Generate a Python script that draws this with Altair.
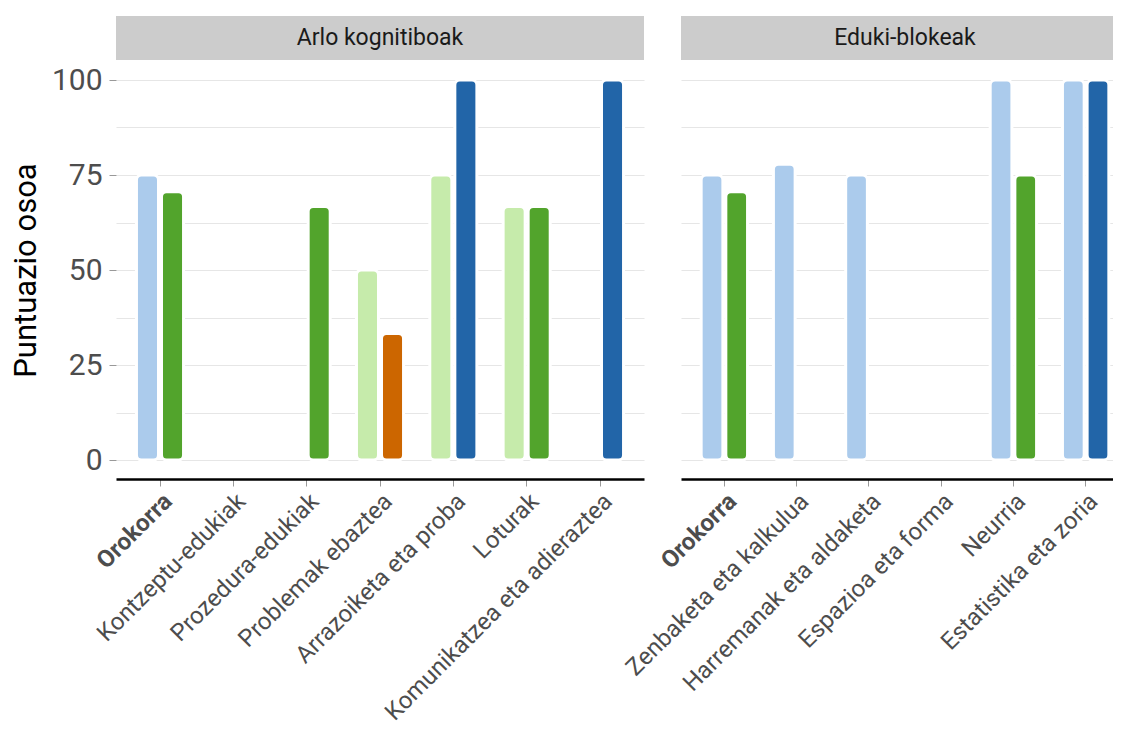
import altair as alt
import pandas as pd

# ---- data ----
cats_a = ["Orokorra", "Kontzeptu-edukiak", "Prozedura-edukiak", "Problemak ebaztea",
          "Arrazoiketa eta proba", "Loturak", "Komunikatzea eta adieraztea"]
left_a = [75, None, None, 50, 75, 66.7, None]
left_a_col = ["lb", None, None, "lg", "lg", "lg", None]
right_a = [70.6, None, 66.7, 33.3, 100, 66.7, 100]
right_a_col = ["g", None, "g", "o", "db", "g", "db"]

cats_b = ["Orokorra", "Zenbaketa eta kalkulua", "Harremanak eta aldaketa",
          "Espazioa eta forma", "Neurria", "Estatistika eta zoria"]
left_b = [75, 77.8, 75, None, 100, 100]
left_b_col = ["lb", "lb", "lb", None, "lb", "lb"]
right_b = [70.6, None, None, None, 75, 100]
right_b_col = ["g", None, None, None, "g", "db"]

color_keys = ["lb", "lg", "g", "o", "db"]
color_hex = ["#abcbec", "#c6ebab", "#52a42c", "#cc6600", "#2265a8"]

panel_titles = ["Arlo kognitiboak", "Eduki-blokeak"]
y_title = "Puntuazio osoa"
y_ticks = [0, 12.5, 25, 37.5, 50, 62.5, 75, 87.5, 100]


def build_df(cats, left, left_col, right, right_col):
    rows = []
    for c, lv, lc, rv, rc in zip(cats, left, left_col, right, right_col):
        if lv is not None:
            rows.append({"cat": c, "pos": "L", "val": lv, "col": lc})
        if rv is not None:
            rows.append({"cat": c, "pos": "R", "val": rv, "col": rc})
    return pd.DataFrame(rows)


df_a = build_df(cats_a, left_a, left_a_col, right_a, right_a_col)
df_b = build_df(cats_b, left_b, left_b_col, right_b, right_b_col)

FONT = "Roboto"
H = 418


def panel(df, cats, width, title, show_y):
    if show_y:
        y_axis = alt.Axis(
            values=y_ticks,
            labelExpr="datum.value % 25 == 0 ? datum.label : ''",
            title=y_title, titleFont=FONT, titleFontSize=31, titleFontWeight="normal",
            titleColor="#000000", titlePadding=9,
            labelFont=FONT, labelFontSize=30, labelColor="#4d4d4d", labelPadding=7,
            labelOverlap=False,
            tickSize=7, tickWidth=1,
            tickColor={"condition": {"test": "datum.value % 25 == 0", "value": "#999999"},
                       "value": "rgba(0,0,0,0)"},
            domain=False, grid=True, gridColor="#e6e6e6", gridWidth=1.2,
        )
    else:
        y_axis = alt.Axis(
            values=y_ticks, labels=False, ticks=False, domain=False, title=None,
            grid=True, gridColor="#e6e6e6", gridWidth=1.2,
        )

    x_axis = alt.Axis(
        title=None, labelAngle=-45, labelAlign="right", labelBaseline="top",
        labelFont=FONT, labelFontSize=24, labelColor="#4d4d4d",
        labelFontWeight={"condition": {"test": "datum.value == 'Orokorra'", "value": "bold"},
                         "value": "normal"},
        labelPadding=3, labelLimit=600, labelOverlap=False,
        tickSize=7, tickWidth=1, tickColor="#999999",
        domainColor="#000000", domainWidth=2.5, grid=False,
    )

    bars = alt.Chart(df).mark_bar(cornerRadius=5, stroke="white", strokeWidth=3).encode(
        x=alt.X("cat:N", sort=cats,
                scale=alt.Scale(domain=cats, paddingInner=0, paddingOuter=0.1),
                axis=x_axis),
        xOffset=alt.XOffset("pos:N",
                            scale=alt.Scale(domain=["L", "R"], paddingInner=0.12,
                                            paddingOuter=0.524)),
        y=alt.Y("val:Q", scale=alt.Scale(domain=[-5, 105], nice=False, zero=False),
                axis=y_axis),
        y2=alt.datum(0),
        color=alt.Color("col:N", scale=alt.Scale(domain=color_keys, range=color_hex),
                        legend=None),
    )

    one = pd.DataFrame({"k": [0]})
    strip = alt.Chart(one).mark_rect(color="#cccccc").encode(
        x=alt.value(0), x2=alt.value(width), y=alt.value(-45), y2=alt.value(-1)
    )
    strip_text = alt.Chart(one).mark_text(
        text=title, font=FONT, fontSize=23, color="#1a1a1a", align="center", baseline="middle"
    ).encode(x=alt.value(width / 2), y=alt.value(-23))

    return alt.layer(bars, strip, strip_text).properties(width=width, height=H)


p1 = panel(df_a, cats_a, 528, panel_titles[0], True)
p2 = panel(df_b, cats_b, 448, panel_titles[1], False)

chart = alt.hconcat(p1, p2, spacing=37, bounds="flush").resolve_scale(
    x="independent", xOffset="independent", y="shared", color="shared"
).properties(
    padding={"left": 2, "top": 8, "right": -16, "bottom": 8},
    background="white",
).configure_view(stroke=None)

chart.save("out.html", embed_options={"renderer": "svg", "actions": False})
